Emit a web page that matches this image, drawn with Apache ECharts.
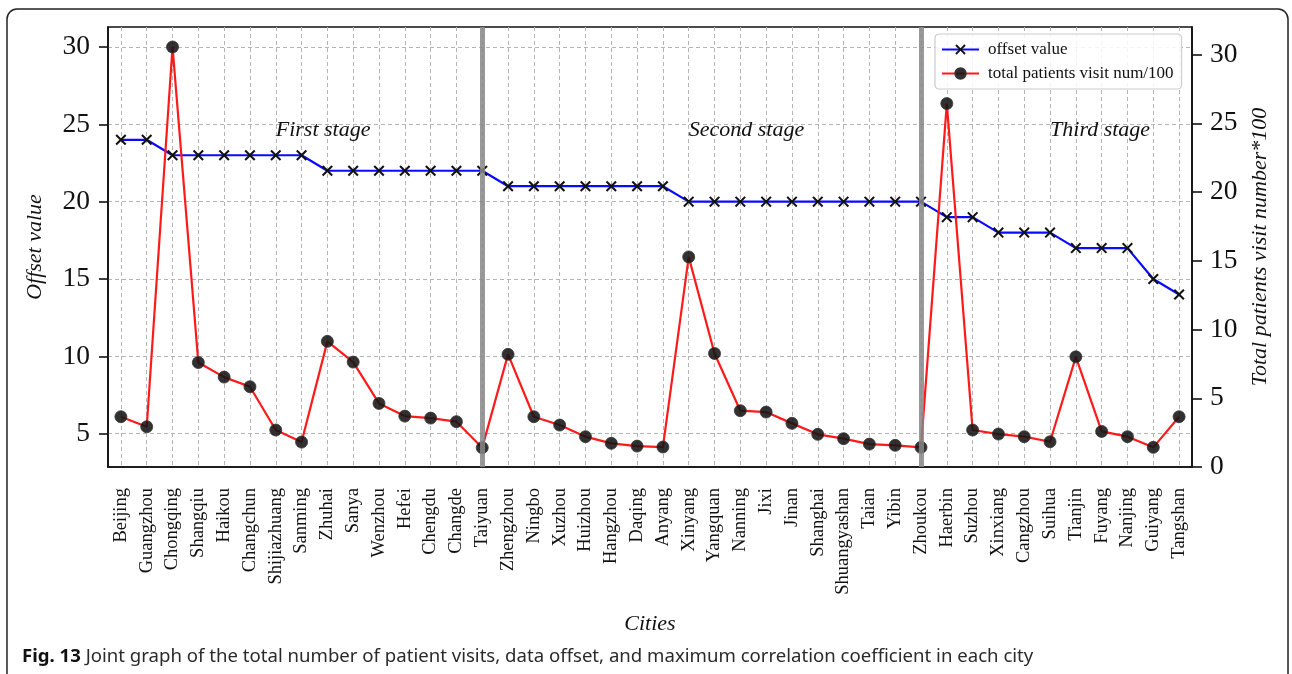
<!DOCTYPE html>
<html>
<head>
<meta charset="utf-8">
<script src="https://cdn.jsdelivr.net/npm/echarts@6/dist/echarts.min.js"></script>
<style>
  html, body { margin: 0; padding: 0; background: #ffffff; }
  #chart { width: 1292px; height: 674px; }
</style>
</head>
<body>
<div id="chart"></div>
<script>
// Cities in order of decreasing offset value
const cities = [
  'Beijing', 'Guangzhou', 'Chongqing', 'Shangqiu', 'Haikou', 'Changchun', 'Shijiazhuang',
  'Sanming', 'Zhuhai', 'Sanya', 'Wenzhou', 'Hefei', 'Chengdu', 'Changde', 'Taiyuan',
  'Zhengzhou', 'Ningbo', 'Xuzhou', 'Huizhou', 'Hangzhou', 'Daqing', 'Anyang',
  'Xinyang', 'Yangquan', 'Nanning', 'Jixi', 'Jinan', 'Shanghai', 'Shuangyashan',
  'Taian', 'Yibin', 'Zhoukou', 'Haerbin', 'Suzhou', 'Xinxiang', 'Cangzhou', 'Suihua',
  'Tianjin', 'Fuyang', 'Nanjing', 'Guiyang', 'Tangshan'
];

// Offset value per city
const offsetValues = [
  24, 24, 23, 23, 23, 23, 23, 23, 22, 22, 22, 22, 22, 22, 22,
  21, 21, 21, 21, 21, 21, 21,
  20, 20, 20, 20, 20, 20, 20, 20, 20, 20,
  19, 19, 18, 18, 18, 17, 17, 17, 15, 14
];

// Total patient visits / 100 per city
const patientVisits = [
  6.1, 5.45, 30.0, 9.6, 8.66, 8.04, 5.24, 4.46, 10.97, 9.63, 6.96, 6.14, 6.01, 5.78, 4.1,
  10.13, 6.1, 5.56, 4.81, 4.38, 4.2, 4.14,
  16.43, 10.19, 6.49, 6.4, 5.67, 4.96, 4.68, 4.33, 4.25, 4.12,
  26.34, 5.24, 4.98, 4.81, 4.48, 9.97, 5.15, 4.81, 4.12, 6.1
];

// Last city of the first and second stages
const stageBoundaries = ['Taiyuan', 'Zhoukou'];

// Stage captions and their anchor points [category index, offset value]
const stageLabels = ['First stage', 'Second stage', 'Third stage'];
const stageAnchors = [[6, 24.6], [22, 24.6], [36, 24.6]];

// Tick values and axis ranges
const leftTicks = [5, 10, 15, 20, 25, 30];
const rightTicks = [0, 5, 10, 15, 20, 25, 30];
const leftRange = [2.85, 31.29];
const rightRange = [0, 32];

const seriesNames = ['offset value', 'total patients visit num/100'];
const caption = 'Joint graph of the total number of patient visits, data offset, and maximum correlation coefficient in each city';

const SERIF = '"Liberation Serif", "Times New Roman", serif';
const SANS = '"Noto Sans", "Open Sans", sans-serif';
const CROSS = 'path://M0,1.3 L1.3,0 L5,3.7 L8.7,0 L10,1.3 L6.3,5 L10,8.7 L8.7,10 L5,6.3 L1.3,10 L0,8.7 L3.7,5 Z';
const gridLine = { show: true, lineStyle: { color: '#b4b4b4', type: [4, 3], width: 1 } };

const chart = echarts.init(document.getElementById('chart'), null, { renderer: 'canvas' });

const option = {
  backgroundColor: '#ffffff',
  animation: false,
  textStyle: { fontFamily: SERIF },
  grid: {
    left: 108, right: 100, top: 27, bottom: 207,
    show: true, borderColor: '#111', borderWidth: 1.6, backgroundColor: 'transparent'
  },
  legend: {
    data: seriesNames,
    orient: 'vertical',
    left: 935, top: 34,
    itemWidth: 37, itemHeight: 13, itemGap: 7,
    padding: [7, 8, 7, 6],
    backgroundColor: 'rgba(255,255,255,0.85)',
    borderColor: '#cccccc', borderWidth: 1.2, borderRadius: 4,
    textStyle: { fontFamily: SERIF, fontSize: 17, color: '#111', padding: [0, 0, 0, 4] }
  },
  xAxis: {
    type: 'category',
    data: cities,
    boundaryGap: true,
    name: 'Cities',
    nameLocation: 'middle',
    nameGap: 146,
    nameTextStyle: { fontFamily: SERIF, fontStyle: 'italic', fontSize: 22, color: '#111' },
    axisLine: { lineStyle: { color: '#111', width: 1.6 } },
    axisTick: { alignWithLabel: true, length: 10, lineStyle: { color: '#111', width: 1.6 } },
    axisLabel: { interval: 0, rotate: 90, margin: 21, fontFamily: SERIF, fontSize: 18.5, color: '#111' },
    splitLine: Object.assign({ alignWithLabel: true, interval: 0 }, gridLine)
  },
  yAxis: [
    {
      type: 'value',
      position: 'left',
      min: leftRange[0], max: leftRange[1],
      name: 'Offset value',
      nameLocation: 'middle',
      nameGap: 62,
      nameTextStyle: { fontFamily: SERIF, fontStyle: 'italic', fontSize: 22, color: '#111' },
      axisLine: { show: true, lineStyle: { color: '#111', width: 1.6 } },
      axisTick: { show: true, length: 9, customValues: leftTicks, lineStyle: { color: '#111', width: 1.6 } },
      axisLabel: { customValues: leftTicks, margin: 18, fontFamily: SERIF, fontSize: 27.5, color: '#111' },
      splitLine: gridLine
    },
    {
      type: 'value',
      position: 'right',
      min: rightRange[0], max: rightRange[1],
      name: 'Total patients visit number*100',
      nameLocation: 'middle',
      nameRotate: 90,
      nameGap: 57,
      nameTextStyle: { fontFamily: SERIF, fontStyle: 'italic', fontSize: 22, color: '#111' },
      axisLine: { show: true, lineStyle: { color: '#111', width: 1.6 } },
      axisTick: { show: true, length: 10, customValues: rightTicks, lineStyle: { color: '#111', width: 1.6 } },
      axisLabel: { customValues: rightTicks, margin: 18, fontFamily: SERIF, fontSize: 27.5, color: '#111' },
      splitLine: { show: false }
    }
  ],
  series: [
    {
      name: seriesNames[0],
      type: 'line',
      yAxisIndex: 0,
      data: offsetValues,
      symbol: CROSS,
      symbolSize: 11,
      showAllSymbol: true,
      lineStyle: { color: '#0a0aff', width: 2.2 },
      itemStyle: { color: '#111111' },
      z: 2
    },
    {
      name: seriesNames[1],
      type: 'line',
      yAxisIndex: 0,
      data: patientVisits,
      symbol: 'circle',
      symbolSize: 12,
      showAllSymbol: true,
      lineStyle: { color: '#ff1a1a', width: 2.2 },
      itemStyle: { color: 'rgba(20,20,20,0.88)', borderColor: '#333', borderWidth: 0.8 },
      z: 3,
      markLine: {
        silent: true,
        symbol: 'none',
        label: { show: false },
        lineStyle: { color: 'rgba(135,135,135,0.85)', width: 5, type: 'solid' },
        data: stageBoundaries.map(c => ({ xAxis: c }))
      }
    }
  ]
};

chart.setOption(option);

// Stage captions anchored to data coordinates, plus the figure frame and caption
const stageTexts = stageLabels.map((label, i) => {
  const p = chart.convertToPixel({ xAxisIndex: 0, yAxisIndex: 0 }, stageAnchors[i]);
  return {
    type: 'text',
    x: p[0], y: p[1],
    z: 10,
    style: {
      text: label,
      fontFamily: SERIF, fontStyle: 'italic', fontSize: 22,
      fill: '#111', align: 'left', verticalAlign: 'middle'
    }
  };
});

chart.setOption({
  graphic: [
    {
      type: 'rect',
      shape: { x: 7, y: 9, width: 1281, height: 720, r: 10 },
      style: { fill: 'none', stroke: '#222', lineWidth: 1.5 },
      z: -1, silent: true
    },
    {
      type: 'text',
      x: 22, y: 657,
      style: {
        text: '{b|Fig. 13} ' + caption,
        fontFamily: SANS,
        fontSize: 18.6, fill: '#2a2a2a', verticalAlign: 'middle',
        rich: { b: { fontWeight: 'bold', fontSize: 18.6, fill: '#111', fontFamily: SANS } }
      }
    }
  ].concat(stageTexts)
});
</script>
</body>
</html>
